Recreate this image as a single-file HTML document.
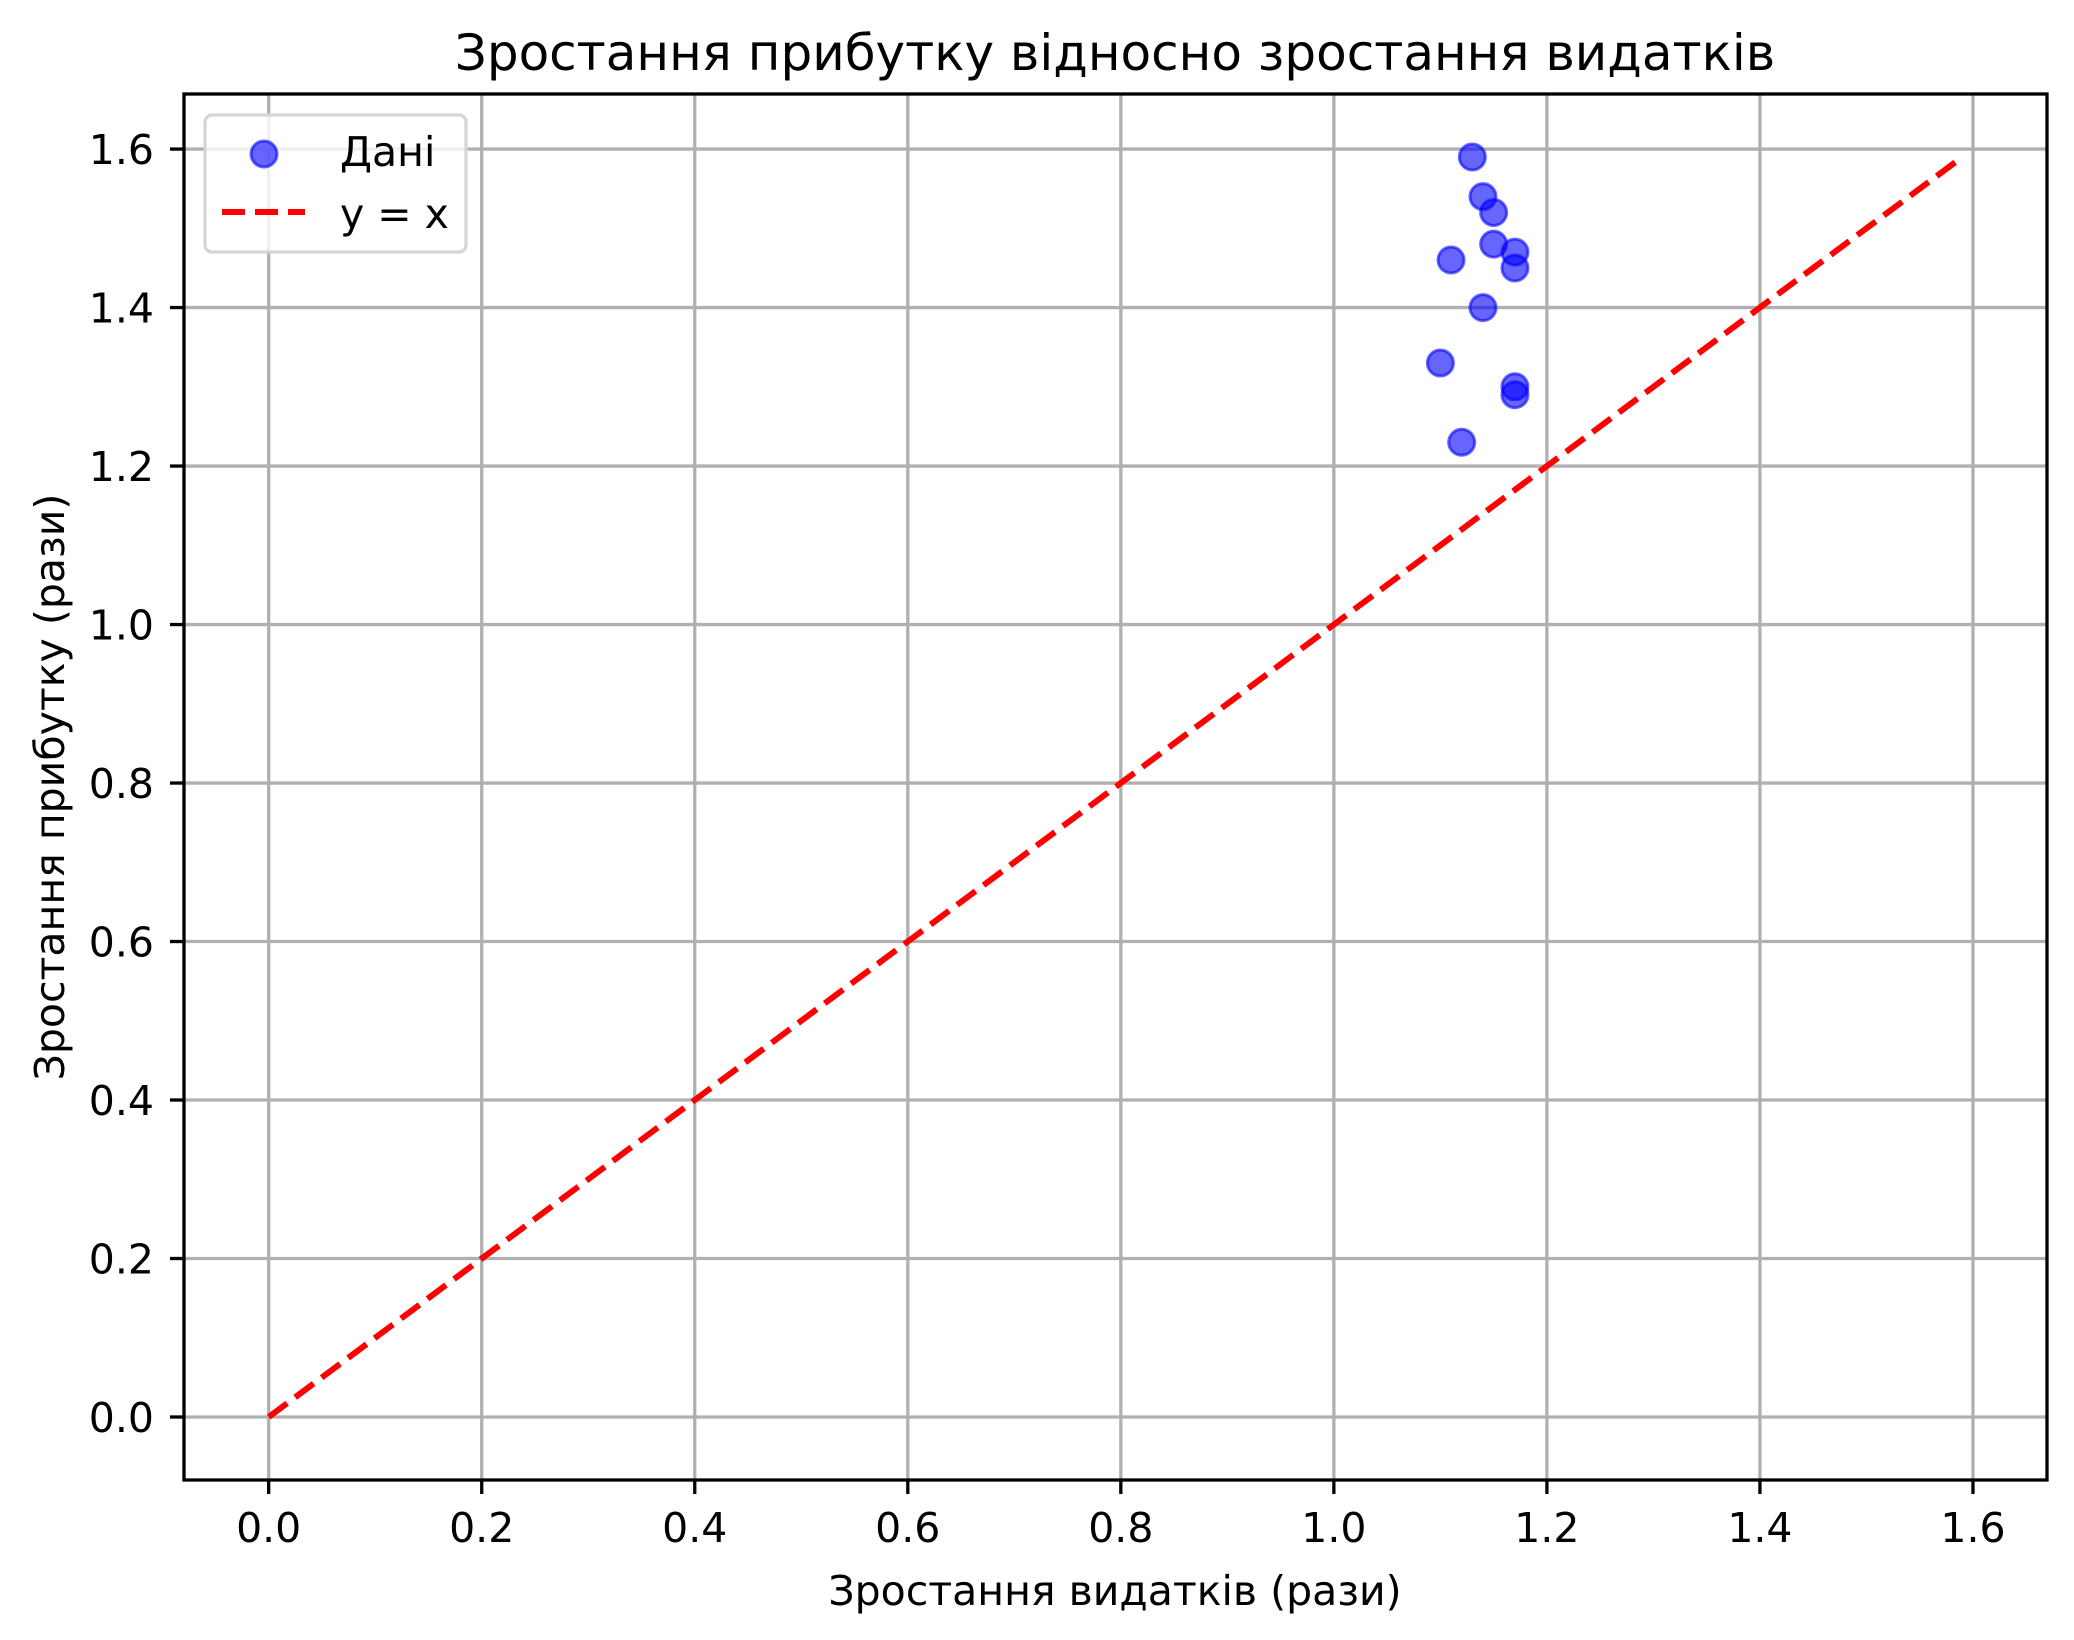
<!DOCTYPE html>
<html><head><meta charset="utf-8"><style>
html,body{margin:0;padding:0;background:#fff;}
svg{display:block;font-family:"DejaVu Sans","Liberation Sans",sans-serif;}
</style></head><body>
<svg id="chart" width="2074" height="1640" viewBox="0 0 2074 1640" xmlns="http://www.w3.org/2000/svg">
<rect width="2074" height="1640" fill="#fff"/>
<g id="grid"></g>
<g id="marks"></g>
<rect x="184" y="94" width="1863" height="1386" fill="none" stroke="#000" stroke-width="3.3"/>
<g id="ticks"></g>
<text x="1115" y="70" font-size="50" text-anchor="middle">Зростання прибутку відносно зростання видатків</text>
<text x="1115" y="1605" font-size="41" text-anchor="middle">Зростання видатків (рази)</text>
<text x="0" y="0" font-size="41" text-anchor="middle" transform="translate(64,787) rotate(-90)">Зростання прибутку (рази)</text>
<g>
<rect x="205" y="115" width="261" height="137" rx="7" fill="#fff" fill-opacity="0.8" stroke="#d5d5d5" stroke-width="3.3"/>
<circle cx="264" cy="154" r="13" fill="#0000ff" fill-opacity="0.6" stroke="#0000ff" stroke-opacity="0.6" stroke-width="3"/>
<text x="340" y="166" font-size="41">Дані</text>
<line x1="222" y1="212" x2="305" y2="212" stroke="#ff0000" stroke-width="6" stroke-dasharray="23,10"/>
<text x="340" y="228" font-size="41">y = x</text>
</g>
</svg>
<script>
const xs = [1.13,1.14,1.15,1.15,1.17,1.17,1.11,1.14,1.10,1.17,1.17,1.12];
const ys = [1.59,1.54,1.52,1.48,1.47,1.45,1.46,1.40,1.33,1.30,1.29,1.23];
const lineEnds = [0,1.59];
const tickVals = [0,0.2,0.4,0.6,0.8,1.0,1.2,1.4,1.6];
const tickLabels = ["0.0","0.2","0.4","0.6","0.8","1.0","1.2","1.4","1.6"];

const NS="http://www.w3.org/2000/svg";
const L=184,R=2047,T=94,B=1480;
const xmin=-0.0795,xmax=1.6695,ymin=-0.0795,ymax=1.6695;
function X(v){return L+(v-xmin)/(xmax-xmin)*(R-L);}
function Y(v){return B-(v-ymin)/(ymax-ymin)*(B-T);}
function mk(tag,attrs,parent){const e=document.createElementNS(NS,tag);for(const k in attrs)e.setAttribute(k,attrs[k]);parent.appendChild(e);return e;}
const grid=document.getElementById('grid'),ticks=document.getElementById('ticks'),marks=document.getElementById('marks');
tickVals.forEach((v,i)=>{
  let g=mk('line',{x1:X(v),y1:T,x2:X(v),y2:B,stroke:'#b0b0b0','stroke-width':3.3},grid);
  
  
  g=mk('line',{x1:L,y1:Y(v),x2:R,y2:Y(v),stroke:'#b0b0b0','stroke-width':3.3},grid);
  
  
  let t=mk('line',{x1:X(v),y1:B,x2:X(v),y2:B+14,stroke:'#000','stroke-width':3.3},ticks);
  
  
  t=mk('line',{x1:L-14,y1:Y(v),x2:L,y2:Y(v),stroke:'#000','stroke-width':3.3},ticks);
  
  
  let tx=mk('text',{x:X(v),y:1542,'font-size':41,'text-anchor':'middle'},ticks);
  tx.textContent=tickLabels[i];
  
  
  tx=mk('text',{x:154,y:Y(v)+15,'font-size':41,'text-anchor':'end'},ticks);
  tx.textContent=tickLabels[i];
  
  
});
const ln=mk('line',{x1:X(lineEnds[0]),y1:Y(lineEnds[0]),x2:X(lineEnds[1]),y2:Y(lineEnds[1]),stroke:'#ff0000','stroke-width':6,'stroke-dasharray':'23,10'},marks);


xs.forEach((x,i)=>{
  const c=mk('circle',{cx:X(x),cy:Y(ys[i]),r:13,fill:'#0000ff','fill-opacity':0.6,stroke:'#0000ff','stroke-opacity':0.6,'stroke-width':3},marks);
  
  
});
</script>
</body></html>
